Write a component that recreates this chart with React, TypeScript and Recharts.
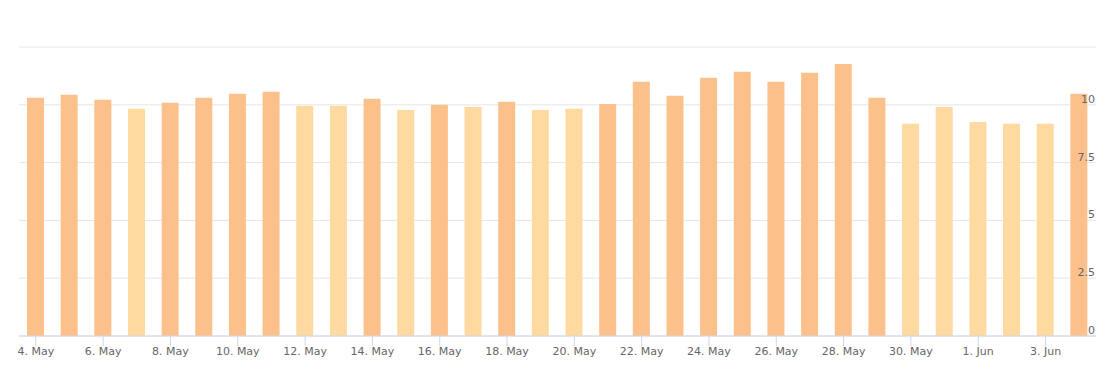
import React from 'react'
import { Bar, BarChart, CartesianGrid, Cell, XAxis, YAxis } from 'recharts'

const days = [
  '4. May', '5. May', '6. May', '7. May', '8. May', '9. May', '10. May', '11. May',
  '12. May', '13. May', '14. May', '15. May', '16. May', '17. May', '18. May', '19. May',
  '20. May', '21. May', '22. May', '23. May', '24. May', '25. May', '26. May', '27. May',
  '28. May', '29. May', '30. May', '31. May', '1. Jun', '2. Jun', '3. Jun', '4. Jun',
]

const values = [
  10.3, 10.43, 10.22, 9.83, 10.09, 10.3, 10.48, 10.56,
  9.96, 9.96, 10.26, 9.78, 10.0, 9.91, 10.13, 9.78,
  9.83, 10.04, 11.0, 10.39, 11.17, 11.43, 11.0, 11.39,
  11.77, 10.3, 9.18, 9.91, 9.26, 9.18, 9.18, 10.48,
]

const yTicks = [0, 2.5, 5, 7.5, 10, 12.5]

const data = days.map((name, i) => ({ name, value: values[i] }))

const font = '"DejaVu Sans", Verdana, sans-serif'

function YTick (props: any) {
  const { x, y, payload } = props
  if (payload.value === 12.5) return null
  return (
    <text x={x - 1} y={y - 2} textAnchor="end" fill="#666666" fontSize={11} fontFamily={font}>
      {payload.value}
    </text>
  )
}

export default function App () {
  return (
    <div style={{ position: 'absolute', left: 0, top: 0, width: 1115, height: 370, background: '#fff' }}>
      <BarChart
        width={1115}
        height={370}
        data={data}
        margin={{ top: 47, right: 19, left: 19, bottom: 0 }}
      >
        <CartesianGrid vertical={false} stroke="#e6e6e6" />
        <XAxis
          dataKey="name"
          interval={1}
          height={34}
          stroke="#ccd6eb"
          tickSize={10}
          tickMargin={1}
          tick={{ fill: '#666666', fontSize: 11, fontFamily: font }}
        />
        <YAxis
          orientation="right"
          mirror
          domain={[0, 12.5]}
          ticks={yTicks}
          axisLine={false}
          tickLine={false}
          tickSize={0}
          tickMargin={0}
          tick={<YTick />}
        />
        <Bar dataKey="value" barSize={17} isAnimationActive={false}>
          {values.map((v, i) => (
            <Cell key={i} fill={v < 10 ? '#fed9a0' : '#fcc18b'} />
          ))}
        </Bar>
      </BarChart>
    </div>
  )
}
